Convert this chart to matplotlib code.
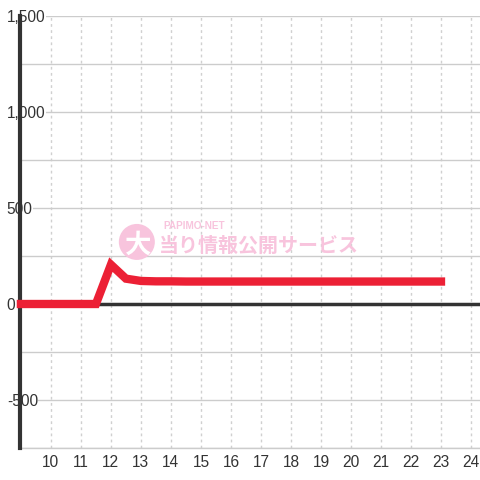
import matplotlib
matplotlib.use("Agg")
import matplotlib.pyplot as plt
from matplotlib.patches import Ellipse
from matplotlib.ticker import MultipleLocator, FuncFormatter

# data
hours = [9.0, 9.5, 10.0, 10.5, 11.0, 11.5, 12.0, 12.5, 13.0, 13.5, 14.0, 14.5, 15.0,
         15.5, 16.0, 16.5, 17.0, 17.5, 18.0, 18.5, 19.0, 19.5, 20.0, 20.5, 21.0,
         21.5, 22.0, 22.5, 23.0]
values = [0, 0, 0, 0, 0, 0, 205, 132, 120, 118, 118, 117, 117,
          117, 117, 117, 117, 117, 117, 117, 117, 117, 117, 117, 117,
          117, 117, 117, 117]
x_ticks = list(range(10, 25))
y_ticks = [-500, 0, 500, 1000, 1500]

plt.rcParams['font.family'] = ['Liberation Sans', 'DejaVu Sans']

fig = plt.figure(figsize=(4.8, 4.8), dpi=100)
fig.patch.set_facecolor('white')
ax = fig.add_axes([20/480, 32/480, 460/480, 432/480])
ax.set_facecolor('white')
ax.set_xlim(8.97, 24.3)
ax.set_ylim(-750, 1500)

# grid
ax.yaxis.set_major_locator(MultipleLocator(500))
ax.yaxis.set_minor_locator(MultipleLocator(250))
ax.set_xticks(x_ticks)
ax.grid(axis='y', which='both', color='#cccccc', linewidth=1.0, linestyle='-')
ax.grid(axis='x', which='major', color='#d0d0d0', linewidth=1.0, linestyle=(0, (2.0, 2.4)))
ax.set_axisbelow(True)

# zero line
ax.axhline(0, color='#333333', linewidth=2.5, zorder=2)

for s in ['top', 'right']:
    ax.spines[s].set_visible(False)
ax.spines['left'].set_color('#333333')
ax.spines['left'].set_linewidth(3)
ax.spines['left'].set_zorder(3)
ax.spines['bottom'].set_color('#cccccc')
ax.spines['bottom'].set_linewidth(1)

ax.set_yticks(y_ticks)
ax.yaxis.set_major_formatter(FuncFormatter(lambda v, p: f"{int(v):,}"))
ax.tick_params(axis='y', which='both', length=0, pad=9.5, labelsize=11.2, labelcolor='#333333')
ax.tick_params(axis='x', which='both', length=0, pad=5, labelsize=11.2, labelcolor='#333333')
for lab in ax.get_yticklabels():
    lab.set_ha('left')
    lab.set_bbox(dict(facecolor='white', edgecolor='none', pad=0.3))
    lab.set_zorder(5)

# watermark
wm = '#f8c4dd'
ax.add_patch(Ellipse((0.254, 0.477), 36/460, 36/432, transform=ax.transAxes, facecolor=wm,
                     edgecolor='none', zorder=1))
ax.text(0.256, 0.470, '大', transform=ax.transAxes, fontsize=19, fontweight='bold',
        color='white', ha='center', va='center', zorder=1,
        family=['Noto Sans CJK JP', 'DejaVu Sans'])
ax.text(0.311, 0.513, 'PAPIMO-NET', transform=ax.transAxes, fontsize=7.2, fontweight='bold',
        color=wm, ha='left', va='center', zorder=1)
ax.text(0.302, 0.470, '当り情報公開サービス', transform=ax.transAxes, fontsize=14.4,
        fontweight='bold', color=wm, ha='left', va='center', zorder=1,
        family=['Noto Sans CJK JP', 'DejaVu Sans'])

# series
ax.plot(hours, values, color='#ec2035', linewidth=6.0, solid_joinstyle='miter',
        solid_capstyle='projecting', zorder=4, clip_on=False)

fig.savefig('out.png', dpi=100)
